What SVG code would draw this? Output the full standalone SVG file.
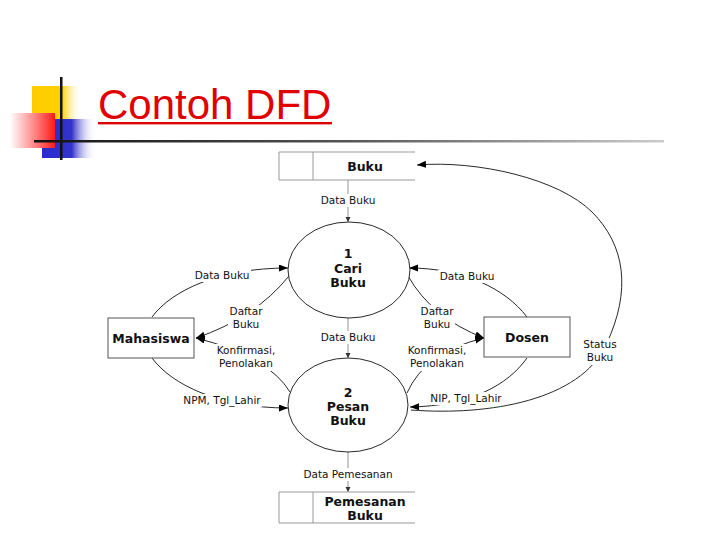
<svg xmlns="http://www.w3.org/2000/svg" width="720" height="540" viewBox="0 0 720 540">
<defs>
<linearGradient id="gY" x1="0" x2="1" y1="0" y2="0"><stop offset="0" stop-color="#ffcc00"/><stop offset="0.6" stop-color="#ffd000"/><stop offset="1" stop-color="#ffffff" stop-opacity="0"/></linearGradient>
<linearGradient id="gB" x1="0" x2="1" y1="0" y2="0"><stop offset="0" stop-color="#2a2ad0"/><stop offset="0.55" stop-color="#3333cc"/><stop offset="1" stop-color="#ffffff" stop-opacity="0"/></linearGradient>
<linearGradient id="gR" x1="0" x2="1" y1="0" y2="0"><stop offset="0" stop-color="#ffffff"/><stop offset="0.5" stop-color="#ff9090"/><stop offset="1" stop-color="#ff1a1a"/></linearGradient>
<linearGradient id="gL" x1="0" x2="1" y1="0" y2="0"><stop offset="0" stop-color="#111"/><stop offset="0.5" stop-color="#555"/><stop offset="1" stop-color="#ccc"/></linearGradient>
<marker id="ah" markerUnits="userSpaceOnUse" markerWidth="10" markerHeight="8" refX="9" refY="3.5" orient="auto"><path d="M0,0 L9,3.5 L0,7 z" fill="#000"/></marker>
<marker id="as" markerUnits="userSpaceOnUse" markerWidth="6" markerHeight="6" refX="5" refY="2.5" orient="auto"><path d="M0,0 L5,2.5 L0,5 z" fill="#333"/></marker>
</defs>
<style>
.ln{fill:none;stroke:#111;stroke-width:0.9}
.vl{fill:none;stroke:#888;stroke-width:0.9}
.st{fill:none;stroke:#999;stroke-width:1}
.box{fill:#fff;stroke:#555;stroke-width:1}
.pr{fill:#fff;stroke:#111;stroke-width:0.9}
.bg{fill:#fff}
.nt{font-family:"DejaVu Sans",sans-serif;font-weight:bold;font-size:12.5px;fill:#111;text-anchor:middle}
.lb{font-family:"DejaVu Sans",sans-serif;font-size:10.5px;fill:#111;text-anchor:middle}
</style>
<g id="logo">
<rect x="32" y="86" width="50" height="44" fill="url(#gY)"/>
<rect x="42" y="119" width="54" height="39" fill="url(#gB)"/>
<rect x="10" y="113" width="45" height="35" fill="url(#gR)"/>
<rect x="60" y="77" width="2.5" height="83" fill="#111"/>
<rect x="34" y="140" width="630" height="2.5" fill="url(#gL)"/>
</g>
<g id="title">
<text x="98" y="119" font-family="Liberation Sans, Arial, sans-serif" font-size="42" fill="#e00000">Contoh DFD</text>
<rect x="98" y="122" width="234" height="2.4" fill="#e00000"/>
</g>
<g id="connectors">
<path class="vl" d="M348,180 L348,222" marker-end="url(#as)"/>
<path class="vl" d="M348,318 L348,358" marker-end="url(#as)"/>
<path class="vl" d="M348,452 L348,492" marker-end="url(#as)"/>
<path class="ln" d="M152,317 C172,290 220,268 288,268" marker-end="url(#ah)"/>
<path class="ln" d="M289,276 Q255,318 196,338" marker-end="url(#ah)"/>
<path class="ln" d="M290,392 Q268,356 196,338" marker-end="url(#ah)"/>
<path class="ln" d="M152,358 C172,385 220,408 288,408" marker-end="url(#ah)"/>
<path class="ln" d="M527,317 C505,288 462,268 409,268" marker-end="url(#ah)"/>
<path class="ln" d="M408,276 Q432,318 484,338" marker-end="url(#ah)"/>
<path class="ln" d="M407,393 Q425,352 484,338" marker-end="url(#ah)"/>
<path class="ln" d="M527,358 C508,385 470,406 410,407" marker-end="url(#ah)"/>
<path class="ln" d="M411,410 C490,416 580,400 606,345 S625,245 592,212 S478,160 417,165" marker-end="url(#ah)"/>
<rect class="bg" x="319" y="194" width="58" height="13"/>
<rect class="bg" x="193" y="269" width="58" height="13"/>
<rect class="bg" x="228" y="305" width="36" height="27"/>
<rect class="bg" x="215" y="344" width="62" height="27"/>
<rect class="bg" x="182" y="394" width="80" height="13"/>
<rect class="bg" x="319" y="331" width="58" height="13"/>
<rect class="bg" x="438" y="270" width="58" height="13"/>
<rect class="bg" x="419" y="305" width="36" height="27"/>
<rect class="bg" x="406" y="344" width="62" height="27"/>
<rect class="bg" x="429" y="392" width="74" height="13"/>
<rect class="bg" x="582" y="338" width="36" height="27"/>
<rect class="bg" x="301" y="468" width="94" height="13"/>
<text class="lb" x="348" y="204">Data Buku</text>
<text class="lb" x="222" y="279">Data Buku</text>
<text class="lb" x="246" y="315">Daftar</text>
<text class="lb" x="246" y="328">Buku</text>
<text class="lb" x="246" y="354">Konfirmasi,</text>
<text class="lb" x="246" y="367">Penolakan</text>
<text class="lb" x="222" y="404">NPM, Tgl_Lahir</text>
<text class="lb" x="348" y="341">Data Buku</text>
<text class="lb" x="467" y="280">Data Buku</text>
<text class="lb" x="437" y="315">Daftar</text>
<text class="lb" x="437" y="328">Buku</text>
<text class="lb" x="437" y="354">Konfirmasi,</text>
<text class="lb" x="437" y="367">Penolakan</text>
<text class="lb" x="466" y="402">NIP, Tgl_Lahir</text>
<text class="lb" x="600" y="348">Status</text>
<text class="lb" x="600" y="361">Buku</text>
<text class="lb" x="348" y="478">Data Pemesanan</text>
</g>
<g id="store-buku">
<path class="st" d="M415,152 L279,152 L279,180 L415,180 M313,152 L313,180"/>
<text class="nt" x="365" y="171">Buku</text>
</g>
<g id="proc-cari-buku">
<ellipse class="pr" cx="349" cy="270" rx="61" ry="48"/>
<text class="nt" x="348" y="258">1</text>
<text class="nt" x="348" y="273">Cari</text>
<text class="nt" x="348" y="287">Buku</text>
</g>
<g id="proc-pesan-buku">
<ellipse class="pr" cx="348" cy="405" rx="60" ry="47"/>
<text class="nt" x="348" y="397">2</text>
<text class="nt" x="348" y="411">Pesan</text>
<text class="nt" x="348" y="425">Buku</text>
</g>
<g id="mahasiswa">
<rect class="box" x="108" y="318" width="86" height="40"/>
<text class="nt" x="151" y="343">Mahasiswa</text>
</g>
<g id="dosen">
<rect class="box" x="484" y="317" width="86" height="40"/>
<text class="nt" x="527" y="342">Dosen</text>
</g>
<g id="store-pemesanan">
<path class="st" d="M415,492 L279,492 L279,523 L415,523 M313,492 L313,523"/>
<text class="nt" x="365" y="506">Pemesanan</text>
<text class="nt" x="365" y="520">Buku</text>
</g>
</svg>
